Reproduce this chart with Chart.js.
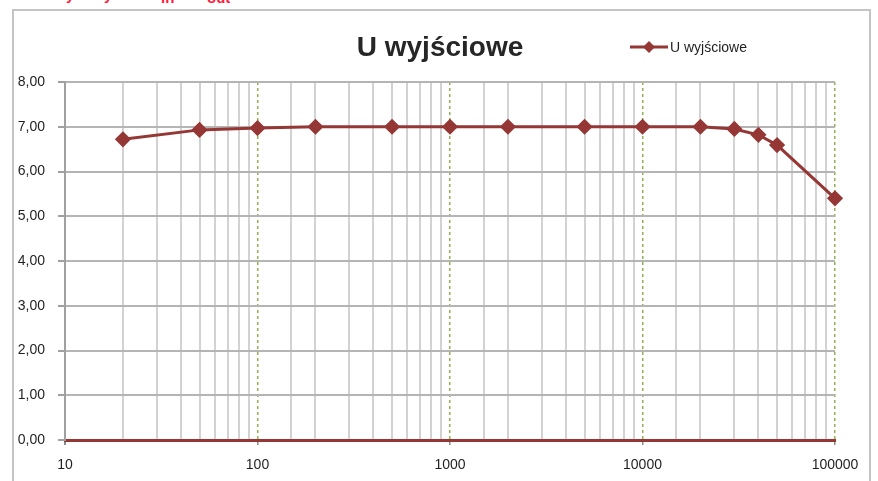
<!DOCTYPE html>
<html lang="pl">
<head>
    <meta charset="UTF-8">
    <title>U wyjściowe</title>
    <script src="https://cdn.jsdelivr.net/npm/chart.js@4/dist/chart.umd.min.js"></script>
    <style>
        html, body { margin: 0; padding: 0; background: #fff; }
        .page { position: relative; width: 878px; height: 481px; overflow: hidden; }
        .frame {
            position: absolute; left: 12px; top: 9px; width: 859px; height: 500px;
            border: 2px solid #c4c4c4; box-sizing: border-box;
        }
        .clip-note {
            position: absolute; top: -14px; color: #ff1a3c; font: bold 15px "Liberation Sans", Arial, sans-serif;
        }
        .clip-note.sub { top: -11px; }
        canvas { position: absolute; left: 0; top: 0; }
    </style>
</head>
<body>
    <div class="page">
        <div class="frame"></div>
        <span class="clip-note" style="left:66px">y</span>
        <span class="clip-note" style="left:104px">y</span>
        <span class="clip-note sub" style="left:161px">in</span>
        <span class="clip-note sub" style="left:207px">out</span>
        <canvas id="chart" width="878" height="481"></canvas>
    </div>

    <script>
        // values
        const freqs = [20, 50, 100, 200, 500, 1000, 2000, 5000, 10000, 20000, 30000, 40000, 50000, 100000];
        const uOut = [6.72, 6.93, 6.97, 7.00, 7.00, 7.00, 7.00, 7.00, 7.00, 7.00, 6.95, 6.82, 6.59, 5.40];
        const seriesName = 'U wyjściowe';
        const titleText = 'U wyjściowe';
        const xDecades = [10, 100, 1000, 10000, 100000];

        const lineColor = '#953735';
        const isDecade = v => xDecades.includes(Math.round(v));

        // title + legend drawn in place, like the Excel layout
        const headerPlugin = {
            id: 'header',
            afterDraw(chart) {
                const ctx = chart.ctx;
                ctx.save();
                ctx.fillStyle = '#262626';
                ctx.font = 'bold 28px "Liberation Sans", Arial, sans-serif';
                ctx.textAlign = 'center';
                ctx.textBaseline = 'alphabetic';
                ctx.fillText(titleText, 440, 56);

                // legend
                ctx.strokeStyle = lineColor;
                ctx.lineWidth = 3;
                ctx.beginPath();
                ctx.moveTo(630, 47);
                ctx.lineTo(668, 47);
                ctx.stroke();
                ctx.fillStyle = lineColor;
                ctx.beginPath();
                ctx.moveTo(649, 41);
                ctx.lineTo(655, 47);
                ctx.lineTo(649, 53);
                ctx.lineTo(643, 47);
                ctx.closePath();
                ctx.fill();
                ctx.fillStyle = '#1f1f1f';
                ctx.font = '14px "Liberation Sans", Arial, sans-serif';
                ctx.textAlign = 'left';
                ctx.textBaseline = 'middle';
                ctx.fillText(seriesName, 670, 48);
                ctx.restore();
            }
        };

        new Chart(document.getElementById('chart'), {
            type: 'line',
            data: {
                datasets: [{
                    label: seriesName,
                    data: freqs.map((f, i) => ({ x: f, y: uOut[i] })),
                    borderColor: lineColor,
                    backgroundColor: lineColor,
                    borderWidth: 3,
                    pointStyle: 'rectRot',
                    pointRadius: 6,
                    pointHoverRadius: 6,
                    tension: 0,
                    clip: false
                }]
            },
            options: {
                responsive: false,
                animation: false,
                layout: { padding: { top: 82, right: 43, left: 0, bottom: 0 } },
                plugins: {
                    legend: { display: false },
                    title: { display: false },
                    tooltip: { enabled: false }
                },
                scales: {
                    x: {
                        type: 'logarithmic',
                        min: 10,
                        max: 100000,
                        afterFit: s => { s.height = 41; },
                        grid: {
                            color: c => {
                                const v = c.tick ? c.tick.value : 0;
                                if (Math.round(v) === 10) return '#a0a0a0';
                                return isDecade(v) ? '#8fb04f' : '#d2d2d2';
                            },
                            lineWidth: c => (c.tick && isDecade(c.tick.value) && Math.round(c.tick.value) !== 10) ? 1.5 : 2,
                            tickColor: c => (c.tick && isDecade(c.tick.value)) ? '#8c8c8c' : 'rgba(0,0,0,0)',
                            tickLength: 5,
                            tickBorderDash: []
                        },
                        border: {
                            color: lineColor,
                            width: 3,
                            dash: c => (c.tick && isDecade(c.tick.value) && Math.round(c.tick.value) !== 10) ? [3, 3] : []
                        },
                        ticks: {
                            autoSkip: false,
                            maxRotation: 0,
                            padding: 12,
                            color: '#1f1f1f',
                            font: { family: '"Liberation Sans", Arial, sans-serif', size: 14 },
                            callback: v => isDecade(v) ? String(Math.round(v)) : ''
                        }
                    },
                    y: {
                        min: 0,
                        max: 8,
                        afterFit: s => { s.width = 65; },
                        grid: {
                            color: '#b4b4b4',
                            lineWidth: 2,
                            tickColor: '#a0a0a0',
                            tickLength: 7
                        },
                        border: { color: '#a0a0a0', width: 2 },
                        ticks: {
                            stepSize: 1,
                            padding: 13,
                            color: '#1f1f1f',
                            font: { family: '"Liberation Sans", Arial, sans-serif', size: 14 },
                            callback: v => v.toFixed(2).replace('.', ',')
                        }
                    }
                }
            },
            plugins: [headerPlugin]
        });
    </script>
</body>
</html>
